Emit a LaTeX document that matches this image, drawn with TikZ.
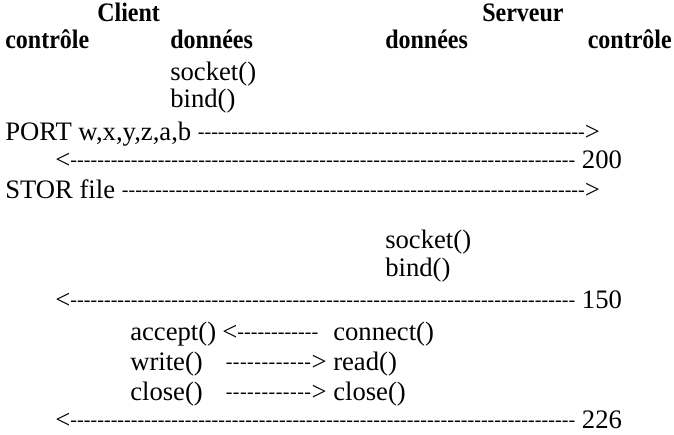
\documentclass[tikz,border=0pt]{standalone}
\usepackage{fontspec}
\setmainfont{Liberation Serif}[BoldFeatures={FakeStretch=0.9}]

% a run of hyphens that fills whatever room is left in a box
\newcommand{\dashfill}{\xleaders\hbox{\fontsize{15}{18}\selectfont\raisebox{1pt}{-}}\hfill}

\begin{document}
\begin{tikzpicture}[x=0.75pt, y=-0.75pt]
  \tikzstyle{txt} = [anchor=base west, inner sep=0pt, font=\fontsize{20}{24}\selectfont]
  \tikzstyle{head} = [txt, font=\fontsize{20}{24}\selectfont\bfseries]
  \useasboundingbox[fill=white] (0,0) rectangle (674,435);

  % column titles
  \node[head] (client) at (97,22) {Client};
  \node[head] (serveur) at (482,22) {Serveur};
  \node[head] (ctrlC) at (5,49) {contrôle};
  \node[head] (dataC) at (170,49) {données};
  \node[head] (dataS) at (385,49) {données};
  \node[head, anchor=base east] (ctrlS) at (672,49) {contrôle};

  % client data socket
  \node[txt] (sockC) at (170,80) {socket()};
  \node[txt] (bindC) at (170,108) {bind()};

  % control connection
  \node[txt] (port) at (5,140) {\hbox to 446pt{PORT w,x,y,z,a,b \dashfill>}};
  \node[txt] (r200) at (55,168) {\hbox to 425pt{<\dashfill{} 200}};
  \node[txt] (stor) at (5,198) {\hbox to 446pt{STOR file \dashfill>}};

  % server data socket
  \node[txt] (sockS) at (385,248) {socket()};
  \node[txt] (bindS) at (385,276) {bind()};
  \node[txt] (r150) at (55,308) {\hbox to 425pt{<\dashfill{} 150}};

  % data connection
  \node[txt] (accept) at (130,340) {accept()};
  \node[txt] (toAcc) at (222,340) {\hbox to 72pt{<\dashfill}};
  \node[txt] (connect) at (333,340) {connect()};
  \node[txt] (write) at (130,370) {write()};
  \node[txt] (toRead) at (225,370) {\hbox to 76pt{\dashfill>}};
  \node[txt] (read) at (333,370) {read()};
  \node[txt] (closeC) at (130,400) {close()};
  \node[txt] (toClose) at (225,400) {\hbox to 76pt{\dashfill>}};
  \node[txt] (closeS) at (333,400) {close()};

  \node[txt] (r226) at (55,428) {\hbox to 425pt{<\dashfill{} 226}};
\end{tikzpicture}
\end{document}
